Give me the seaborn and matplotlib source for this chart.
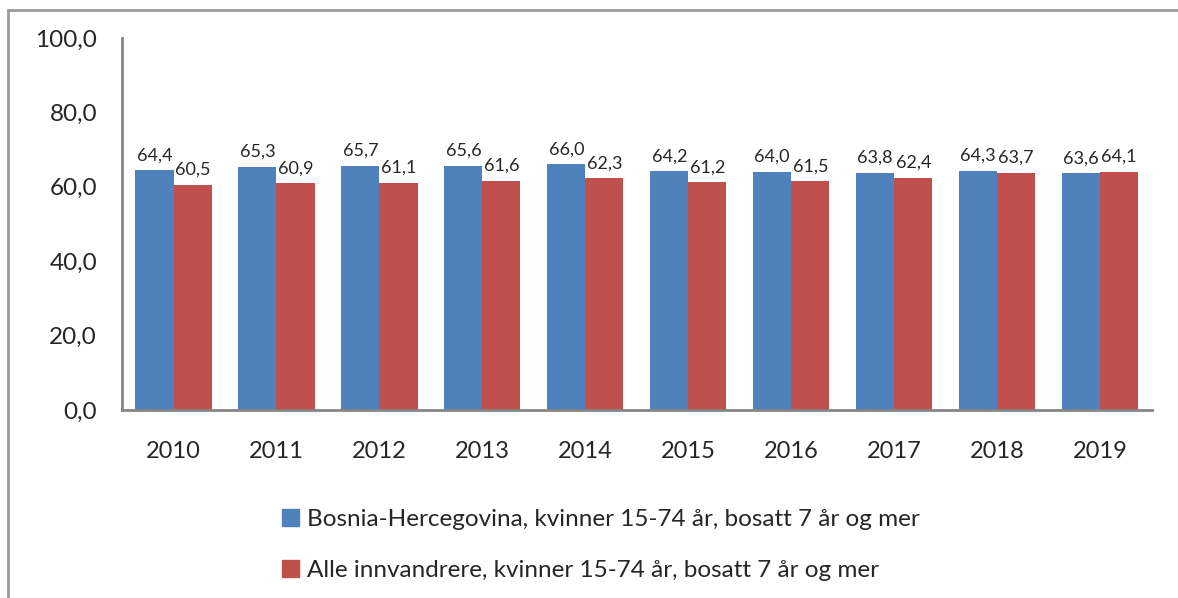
import pandas as pd
import matplotlib.pyplot as plt
import seaborn as sns
from matplotlib.patches import Rectangle, Patch

years = ['2010', '2011', '2012', '2013', '2014', '2015', '2016', '2017', '2018', '2019']
bosnia = [64.4, 65.3, 65.7, 65.6, 66.0, 64.2, 64.0, 63.8, 64.3, 63.6]
alle = [60.5, 60.9, 61.1, 61.6, 62.3, 61.2, 61.5, 62.4, 63.7, 64.1]
series = ['Bosnia-Hercegovina, kvinner 15-74 år, bosatt 7 år og mer',
          'Alle innvandrere, kvinner 15-74 år, bosatt 7 år og mer']
colors = ['#4f81bd', '#c0504d']

df = pd.DataFrame({
    'year': years * 2,
    'value': bosnia + alle,
    'serie': [series[0]] * len(years) + [series[1]] * len(years),
})

sns.set_style('white')
plt.rcParams['font.family'] = ['Lato', 'DejaVu Sans']

fig = plt.figure(figsize=(11.78, 5.98), dpi=100)
ax = fig.add_axes([0.1036, 0.3144, 0.874, 0.6221])

sns.barplot(data=df, x='year', y='value', hue='serie', palette=colors,
            width=0.74, saturation=1, legend=False, linewidth=0, ax=ax)

for cont, vals in zip(ax.containers, [bosnia, alle]):
    ax.bar_label(cont, labels=[f'{v:.1f}'.replace('.', ',') for v in vals],
                 padding=5, fontsize=13)

ax.set_ylim(0, 100)
ax.set_yticks(range(0, 101, 20))
ax.set_yticklabels([f'{t},0' for t in range(0, 101, 20)], fontsize=17.5)
ax.tick_params(axis='x', labelsize=17, pad=22, length=0)
ax.tick_params(axis='y', pad=18, length=0)
ax.set_xlabel('')
ax.set_ylabel('')
sns.despine(ax=ax)
for side in ['left', 'bottom']:
    ax.spines[side].set_color('#868686')
    ax.spines[side].set_linewidth(2)

handles = [Patch(color=c) for c in colors]
fig.legend(handles, series, loc='center left', bbox_to_anchor=(0.239, 0.0886),
           frameon=False, fontsize=17.5, handlelength=0.7, handleheight=0.7,
           handletextpad=0.35, labelspacing=1.25, borderpad=0, borderaxespad=0)

fig.patches.append(Rectangle((8 / 1178, -0.1), 1.2, 1.1 - 10 / 598,
                             transform=fig.transFigure, fill=False,
                             edgecolor='#9a9a9a', linewidth=2))

fig.savefig('out.png', dpi=100)
